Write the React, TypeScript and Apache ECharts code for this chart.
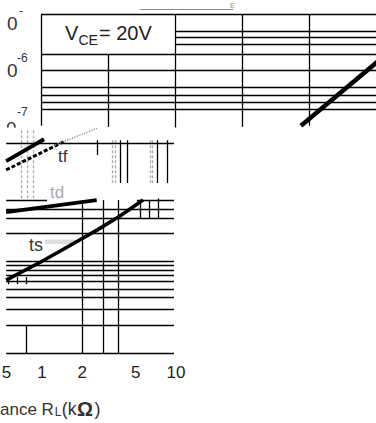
import { useEffect, useRef } from "react";
import * as echarts from "echarts";

const FONT = "'Liberation Sans', Arial, Helvetica, sans-serif";

// ---------------- upper panel (partial view) ----------------
// x: grid division, y: time (s), logarithmic
const upperDivMin = 0;
const upperDivMax = 5;
const upperTimeMin = 1.5e-8;
const upperTimeMax = 1e-5;
// [fromDiv, toDiv, time]
const upperHLines: number[][] = [
  [0, 5, 1e-5],
  [2, 5, 3.9e-6],
  [2, 5, 2.7e-6],
  [2, 5, 1.8e-6],
  [0, 5, 1e-6],
  [0, 5, 3.9e-7],
  [0, 5, 1.4e-7],
  [0, 5, 9e-8],
  [0, 5, 6e-8],
  [0, 5, 4e-8],
];
// [div, fromTime, toTime]
const upperVLines: number[][] = [
  [0, 1e-5, 1.5e-8],
  [1, 1e-6, 1.4e-8],
  [2, 1e-5, 1.35e-8],
  [3, 1e-5, 1.4e-8],
  [4, 1e-5, 1.5e-8],
];
const upperCurveDiv = [3.88, 5.6];
const upperCurveTime = [1.5e-8, 4.2e-6];

// ---------------- lower panel ----------------
// x: load resistance RL (kΩ), y: switching time (µs), both logarithmic
const resTicks = [0.5, 1, 2, 5, 10];
const resTickLabels = ["5", "1", "2", "5", "10"];
const lowerResMin = 0.5;
const lowerResMax = 10;
const lowerTimeMin = 0.1;
const lowerTimeMax = 19.2;
// [fromRes, toRes, time]
const lowerHLines: number[][] = [
  [0.54, 9.66, 19.2],
  [0.54, 1.09, 4.6],
  [5.1, 9.66, 4.6],
  [0.54, 9.66, 3.7],
  [0.54, 9.66, 2.9],
  [0.54, 9.66, 2],
  [0.54, 9.66, 1],
  [0.54, 9.66, 0.9],
  [0.54, 9.66, 0.8],
  [0.54, 9.66, 0.7],
  [0.54, 9.66, 0.6],
  [0.54, 9.66, 0.5],
  [0.54, 9.66, 0.4],
  [0.54, 9.66, 0.3],
  [0.54, 9.66, 0.2],
  [0.54, 9.66, 0.1],
];
// [res, fromTime, toTime]
const lowerVLines: number[][] = [
  [2, 4.6, 0.1],
  [2.85, 4.6, 0.1],
  [3.7, 4.6, 0.1],
  [0.76, 0.2, 0.1],
  [0.558, 0.67, 0.56],
  [0.65, 0.67, 0.56],
  [0.76, 0.67, 0.56],
  [5.39, 4.6, 2.9],
  [6.28, 4.6, 2.9],
  [7.34, 4.8, 2.9],
  [2.57, 20.6, 14.2],
  [3.82, 20.6, 7.05],
  [4.31, 20.6, 7.05],
  [7.2, 20.6, 7.05],
  [8.6, 20.6, 7.05],
];
// faint (grey) fragments
const lowerGhostVLines: number[][] = [
  [0.7, 26.4, 4.6],
  [0.77, 26.4, 4.6],
  [0.86, 26.4, 4.6],
  [3.33, 20.6, 7.05],
  [3.5, 20.6, 7.05],
  [6.4, 20.6, 7.05],
  [6.7, 20.6, 7.05],
];

const tsRes = [0.54, 0.97, 1.36, 2.57, 3.82, 5.67];
const tsTime = [0.62, 0.97, 1.28, 2.17, 3.09, 4.6];
const tdRes = [0.54, 2.56];
const tdTime = [3.4, 4.6];
const tfRes = [0.54, 1.035];
const tfTime = [12.2, 21.1];
const tf2Res = [0.54, 1.48];
const tf2Time = [9.8, 20.1];
const tf3Res = [1.25, 2.57];
const tf3Time = [18.2, 27.7];

const zip = (a: number[], b: number[]) => a.map((v, i) => [v, b[i]]);

const txt = (
  text: string,
  x: number,
  y: number,
  fontSize: number,
  fill = "#222",
  fontWeight: string = "normal"
) => ({
  type: "text",
  x,
  y,
  z: 10,
  style: {
    text,
    fontSize,
    fill,
    fontWeight,
    fontFamily: FONT,
    verticalAlign: "middle",
    textVerticalAlign: "middle",
  },
});

export default function App() {
  const ref = useRef<HTMLDivElement>(null);
  useEffect(() => {
    if (!ref.current) return;
    const chart = echarts.init(ref.current, undefined, { renderer: "svg" });

    // layout (px)
    const upPxPerDiv = 67;
    const upPxPerDecade = 39.3;
    const loPxPerDecadeX = 134;
    const loPxPerDecadeY = 92;
    const loLeft = 42 - loPxPerDecadeX * Math.log10(1 / lowerResMin);

    const hSeg = (l: number[][]) =>
      l.map(([a, b, y]) => ({ coords: [[a, y], [b, y]] }));
    const vSeg = (l: number[][]) =>
      l.map(([x, a, b]) => ({ coords: [[x, a], [x, b]] }));

    const gridLineStyle = { color: "#000", width: 1.3, opacity: 1, curveness: 0 };

    const curve = (
      data: number[][],
      width: number,
      extra: Record<string, unknown> = {}
    ) => ({
      type: "line",
      xAxisIndex: 1,
      yAxisIndex: 1,
      data,
      showSymbol: false,
      symbol: "none",
      clip: false,
      silent: true,
      z: 5,
      lineStyle: { color: "#000", width, ...extra },
    });

    const option: any = {
      animation: false,
      backgroundColor: "#fff",
      grid: [
        {
          left: 41,
          top: 14.7,
          width: upPxPerDiv * (upperDivMax - upperDivMin),
          height: upPxPerDecade * Math.log10(upperTimeMax / upperTimeMin),
          outerBoundsMode: "none",
          containLabel: false,
        },
        {
          left: loLeft,
          top: 143,
          width: loPxPerDecadeX * Math.log10(lowerResMax / lowerResMin),
          height: loPxPerDecadeY * Math.log10(lowerTimeMax / lowerTimeMin),
          outerBoundsMode: "none",
          containLabel: false,
        },
      ],
      xAxis: [
        {
          gridIndex: 0,
          type: "value",
          min: upperDivMin,
          max: upperDivMax,
          show: false,
          splitLine: { show: false },
        },
        {
          gridIndex: 1,
          type: "log",
          logBase: 10,
          min: lowerResMin,
          max: lowerResMax,
          axisLine: { show: false },
          axisTick: { show: false },
          splitLine: { show: false },
          axisLabel: {
            customValues: resTicks,
            margin: 11,
            fontSize: 17,
            color: "#222",
            fontFamily: FONT,
            alignMinLabel: "left",
            formatter: (v: number) => {
              const i = resTicks.findIndex(
                (t) => Math.abs(Math.log10(t) - Math.log10(v)) < 1e-3
              );
              return i >= 0 ? resTickLabels[i] : "";
            },
          },
        },
      ],
      yAxis: [
        {
          gridIndex: 0,
          type: "log",
          logBase: 10,
          min: upperTimeMin,
          max: upperTimeMax,
          show: false,
          splitLine: { show: false },
        },
        {
          gridIndex: 1,
          type: "log",
          logBase: 10,
          min: lowerTimeMin,
          max: lowerTimeMax,
          show: false,
          splitLine: { show: false },
        },
      ],
      series: [
        {
          type: "lines",
          coordinateSystem: "cartesian2d",
          xAxisIndex: 0,
          yAxisIndex: 0,
          polyline: false,
          silent: true,
          clip: false,
          z: 2,
          lineStyle: gridLineStyle,
          data: [...hSeg(upperHLines), ...vSeg(upperVLines)],
        },
        {
          type: "line",
          xAxisIndex: 0,
          yAxisIndex: 0,
          data: zip(upperCurveDiv, upperCurveTime),
          showSymbol: false,
          symbol: "none",
          clip: false,
          silent: true,
          z: 5,
          lineStyle: { color: "#000", width: 4.5 },
        },
        {
          type: "lines",
          coordinateSystem: "cartesian2d",
          xAxisIndex: 1,
          yAxisIndex: 1,
          polyline: false,
          silent: true,
          clip: false,
          z: 2,
          lineStyle: gridLineStyle,
          data: [...hSeg(lowerHLines), ...vSeg(lowerVLines)],
        },
        {
          type: "lines",
          coordinateSystem: "cartesian2d",
          xAxisIndex: 1,
          yAxisIndex: 1,
          polyline: false,
          silent: true,
          clip: false,
          z: 1,
          lineStyle: { color: "#aaa", width: 1.3, opacity: 1, curveness: 0, type: [3, 2] },
          data: vSeg(lowerGhostVLines),
        },
        curve(zip(tsRes, tsTime), 3.6),
        curve(zip(tdRes, tdTime), 3.8),
        curve(zip(tfRes, tfTime), 4),
        curve(zip(tf2Res, tf2Time), 3, { type: [4, 2] }),
        curve(zip(tf3Res, tf3Time), 1.3, { type: "dotted", color: "#888" }),
      ],
      graphic: [
        // y-axis exponent labels (cropped)
        txt("0", 7, 23, 19, "#333"),
        txt("-", 19, 11, 12, "#333"),
        txt("0", 7, 70, 19, "#333"),
        txt("-6", 17, 57.5, 12, "#333"),
        txt("-7", 17, 112, 12, "#333"),
        txt("0", 6, 128, 19, "#333"),
        { type: "rect", z: 11, shape: { x: 0, y: 127.5, width: 17, height: 14 }, style: { fill: "#fff" } },
        // cropped title remnant
        { type: "line", z: 10, shape: { x1: 140, y1: 9.5, x2: 233, y2: 9.5 }, style: { stroke: "#888", lineWidth: 1 } },
        txt("E", 230, 5, 7, "#888"),
        // VCE annotation
        txt("V", 65, 33, 20),
        txt("CE", 78.5, 39.5, 14),
        txt("= 20V", 99, 33, 20),
        // curve labels
        txt("tf", 58, 156, 17, "#333"),
        txt("td", 50, 192, 17, "#aaa"),
        { type: "rect", z: 3, shape: { x: 45, y: 239.5, width: 31, height: 4.5 }, style: { fill: "#ddd" } },
        txt("ts", 29, 244.5, 18, "#333"),
        // x-axis title (cropped)
        txt("ance R", 0, 409, 17, "#333"),
        txt("L", 54.8, 412, 12, "#333"),
        txt("(k", 61.8, 409, 17.5, "#333"),
        txt("Ω", 77, 409, 20, "#333", "bold"),
        txt(")", 94.5, 409, 18, "#333"),
      ],
    };

    chart.setOption(option);
    return () => chart.dispose();
  }, []);

  return (
    <div
      ref={ref}
      style={{
        position: "fixed",
        left: 0,
        top: 0,
        width: 376,
        height: 423,
        background: "#fff",
      }}
    />
  );
}
